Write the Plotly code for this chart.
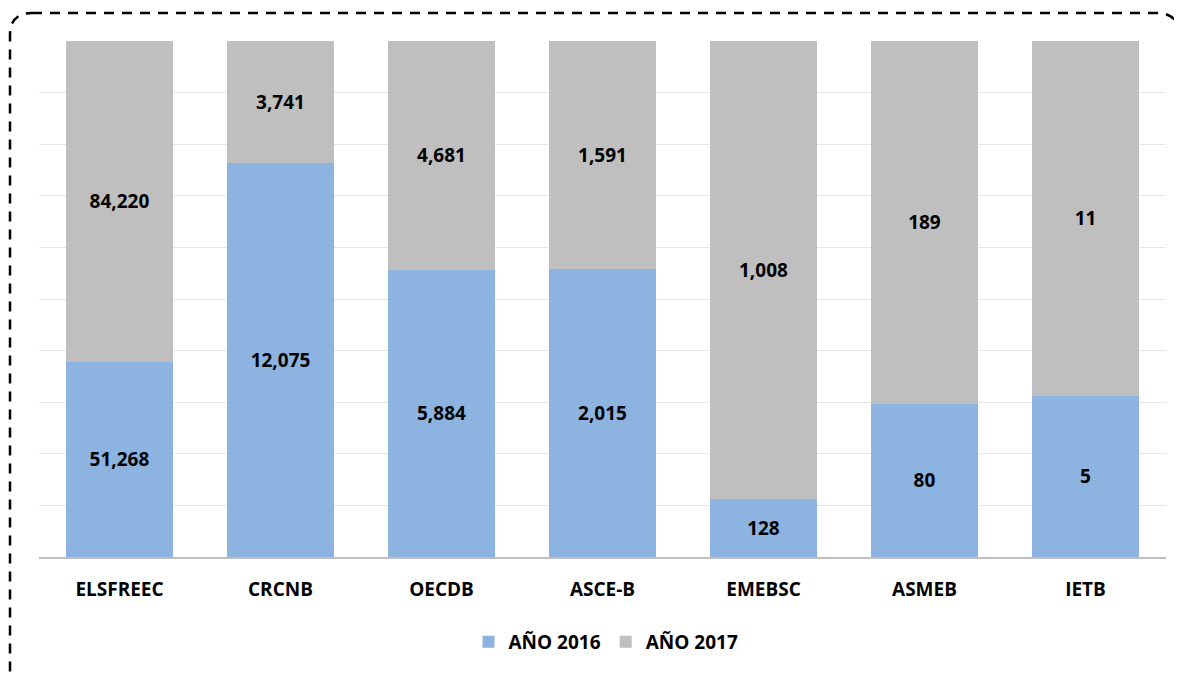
import plotly.graph_objects as go

categories = ["ELSFREEC", "CRCNB", "OECDB", "ASCE-B", "EMEBSC", "ASMEB", "IETB"]
values_2016 = [51268, 12075, 5884, 2015, 128, 80, 5]
values_2017 = [84220, 3741, 4681, 1591, 1008, 189, 11]
series_names = ["AÑO 2016", "AÑO 2017"]

# page body has an 8px margin; work in screen coordinates
O = 8
SW, SH = 1182, 676
W, H = SW - O, SH - O
PL, PR, PT, PB = 39, 1166, 41, 557  # plot area in screen px
ML, MR, MT, MB = PL - O, SW - PR, PT - O, SH - PB
PW, PH = PR - PL, PB - PT

def px(x):
    return (x - PL) / PW

def py(y):
    return (PB - y) / PH

FONT = "Open Sans"
fig = go.Figure()
for name, vals, col in [(series_names[0], values_2016, "#8db4e1"),
                        (series_names[1], values_2017, "#bfbfbf")]:
    fig.add_trace(go.Bar(
        x=categories, y=vals, name=name, marker=dict(color=col, line=dict(width=0)),
        text=[f"{v:,}" for v in vals], textposition="inside", insidetextanchor="middle",
        textangle=0, textfont=dict(family=FONT, size=19, color="#000000", weight="bold"),
        constraintext="none", hoverinfo="skip",
    ))

# dashed rounded border
x0, x1, y0, y1, r = 10, 1179, 13, 700, 22
path = (f"M {px(x0+r)},{py(y0)} L {px(x1-r)},{py(y0)} Q {px(x1)},{py(y0)} {px(x1)},{py(y0+r)} "
        f"L {px(x1)},{py(y1-r)} Q {px(x1)},{py(y1)} {px(x1-r)},{py(y1)} "
        f"L {px(x0+r)},{py(y1)} Q {px(x0)},{py(y1)} {px(x0)},{py(y1-r)} "
        f"L {px(x0)},{py(y0+r)} Q {px(x0)},{py(y0)} {px(x0+r)},{py(y0)} Z")

fig.update_layout(
    width=W, height=H, barmode="stack", barnorm="percent", bargap=0.335,
    margin=dict(l=ML, r=MR, t=MT, b=MB),
    paper_bgcolor="white", plot_bgcolor="white",
    font=dict(family=FONT, color="#000000"),
    showlegend=True,
    legend=dict(orientation="h", x=px(606), xanchor="center", y=py(642), yanchor="middle",
                font=dict(family=FONT, size=19, color="#000000", weight="bold"),
                itemsizing="constant", traceorder="normal"),
    xaxis=dict(showline=True, linecolor="#bfbfbf", linewidth=1.5, ticks="",
               ticklabelstandoff=14,
               tickfont=dict(family=FONT, size=19, color="#000000", weight="bold")),
    yaxis=dict(range=[0, 100], showticklabels=False, showgrid=True, gridcolor="#e6e6e6",
               gridwidth=1, dtick=10, zeroline=False, showline=False),
    shapes=[dict(type="path", path=path, xref="paper", yref="paper",
                 line=dict(color="#000000", width=2.5, dash="10px,8px"), layer="above")],
)

fig.write_html("out.html")
